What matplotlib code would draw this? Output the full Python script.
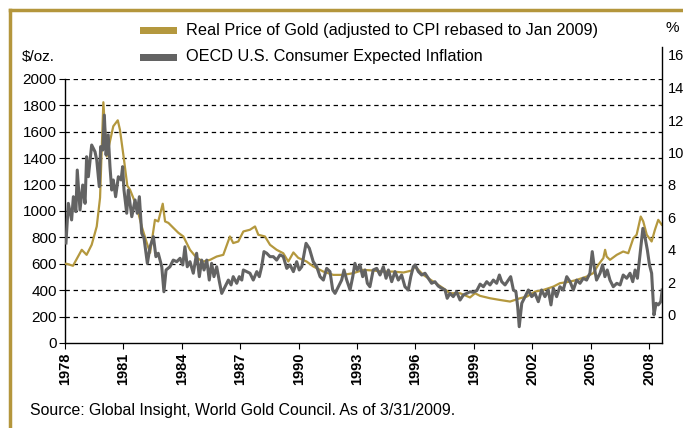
import matplotlib
matplotlib.use("Agg")
import matplotlib.pyplot as plt
from matplotlib.lines import Line2D
from matplotlib.patches import Rectangle

# ---------------- data ----------------
gold_years = [1978.00, 1978.09, 1978.41, 1978.86, 1979.11, 1979.37, 1979.63, 1979.80, 1979.97,
              1980.14, 1980.48, 1980.71, 1980.82, 1981.03, 1981.20, 1981.34, 1981.68, 1981.94,
              1982.20, 1982.37, 1982.62, 1982.79, 1983.02, 1983.14, 1983.31, 1983.56, 1983.82,
              1984.08, 1984.42, 1984.76, 1985.10, 1985.45, 1985.79, 1986.13, 1986.47, 1986.64,
              1986.90, 1987.16, 1987.50, 1987.76, 1987.93, 1988.27, 1988.53, 1988.87, 1989.21,
              1989.47, 1989.73, 1989.98, 1990.41, 1990.75, 1991.27, 1991.78, 1992.29, 1992.81,
              1993.32, 1993.83, 1994.35, 1994.86, 1995.38, 1995.81, 1995.98, 1996.40, 1996.92,
              1997.43, 1997.77, 1998.29, 1998.80, 1999.06, 1999.32, 1999.83, 2000.34, 2000.86,
              2001.37, 2001.71, 2002.14, 2002.57, 2003.08, 2003.42, 2003.94, 2004.28, 2004.79,
              2005.13, 2005.39, 2005.65, 2005.74, 2005.82, 2005.99, 2006.34, 2006.67, 2006.93,
              2007.19, 2007.36, 2007.57, 2007.70, 2007.88, 2008.13, 2008.30, 2008.47, 2008.65]
gold_price = [600, 600, 585, 706, 668, 744, 883, 1100, 1824,
              1414, 1642, 1687, 1617, 1389, 1192, 1161, 1035, 883,
              759, 683, 933, 921, 1055, 921, 910, 873, 835,
              807, 706, 645, 617, 630, 655, 668, 807, 757,
              769, 845, 858, 883, 820, 807, 744, 706, 680,
              617, 686, 645, 617, 580, 541, 516, 516, 529,
              554, 549, 541, 541, 534, 549, 580, 516, 465,
              415, 377, 377, 345, 377, 357, 339, 326, 314,
              339, 351, 389, 402, 427, 453, 465, 478, 503,
              529, 592, 643, 706, 655, 630, 668, 693, 680,
              794, 820, 958, 921, 820, 769, 858, 933, 896]

infl_years = [1978.05, 1978.17, 1978.34, 1978.43, 1978.56, 1978.63, 1978.77, 1978.91, 1979.03,
              1979.11, 1979.20, 1979.37, 1979.54, 1979.63, 1979.76, 1979.83, 1979.94, 1980.02,
              1980.11, 1980.22, 1980.31, 1980.40, 1980.48, 1980.60, 1980.74, 1980.88, 1980.96,
              1981.03, 1981.17, 1981.25, 1981.34, 1981.43, 1981.60, 1981.71, 1981.82, 1981.94,
              1982.06, 1982.23, 1982.37, 1982.54, 1982.67, 1982.79, 1982.97, 1983.08, 1983.19,
              1983.39, 1983.56, 1983.74, 1983.91, 1984.05, 1984.16, 1984.28, 1984.42, 1984.59,
              1984.76, 1984.90, 1985.02, 1985.14, 1985.28, 1985.41, 1985.53, 1985.65, 1985.79,
              1985.93, 1986.05, 1986.22, 1986.39, 1986.53, 1986.64, 1986.82, 1986.95, 1987.08,
              1987.16, 1987.33, 1987.50, 1987.67, 1987.85, 1987.98, 1988.10, 1988.22, 1988.36,
              1988.53, 1988.70, 1988.87, 1989.04, 1989.21, 1989.39, 1989.56, 1989.73, 1989.90,
              1990.03, 1990.16, 1990.38, 1990.55, 1990.75, 1990.93, 1991.10, 1991.27, 1991.44,
              1991.61, 1991.75, 1991.87, 1992.04, 1992.21, 1992.33, 1992.47, 1992.64, 1992.78,
              1992.89, 1993.01, 1993.15, 1993.29, 1993.41, 1993.53, 1993.66, 1993.83, 1994.01,
              1994.18, 1994.35, 1994.49, 1994.61, 1994.78, 1994.95, 1995.12, 1995.29, 1995.46,
              1995.63, 1995.76, 1995.89, 1995.98, 1996.15, 1996.32, 1996.49, 1996.66, 1996.83,
              1997.00, 1997.17, 1997.35, 1997.52, 1997.63, 1997.77, 1997.94, 1998.11, 1998.29,
              1998.46, 1998.63, 1998.80, 1998.97, 1999.15, 1999.32, 1999.49, 1999.66, 1999.83,
              2000.00, 2000.17, 2000.31, 2000.43, 2000.60, 2000.77, 2000.89, 2001.03, 2001.16,
              2001.25, 2001.33, 2001.46, 2001.63, 2001.80, 2001.97, 2002.14, 2002.31, 2002.48,
              2002.65, 2002.82, 2002.96, 2003.08, 2003.25, 2003.42, 2003.59, 2003.77, 2003.94,
              2004.11, 2004.28, 2004.45, 2004.62, 2004.79, 2004.96, 2005.08, 2005.18, 2005.30,
              2005.48, 2005.61, 2005.73, 2005.85, 2005.99, 2006.16, 2006.34, 2006.51, 2006.67,
              2006.85, 2007.02, 2007.16, 2007.28, 2007.40, 2007.54, 2007.68, 2007.80, 2007.91,
              2008.02, 2008.13, 2008.25, 2008.36, 2008.47, 2008.60, 2008.67]
infl_rate = [4.43, 6.87, 5.85, 7.28, 6.36, 8.92, 6.46, 8.00, 6.87,
             9.74, 8.51, 10.46, 10.05, 9.54, 7.90, 10.36, 10.15, 12.30,
             9.85, 11.08, 9.13, 7.69, 8.31, 7.28, 8.51, 8.31, 9.13,
             7.69, 6.26, 7.69, 6.87, 6.05, 7.08, 6.26, 7.28, 5.03,
             4.72, 3.18, 4.20, 4.82, 3.59, 3.80, 2.97, 1.43, 2.77,
             2.97, 3.38, 3.28, 3.49, 3.08, 4.20, 2.97, 3.28, 2.57,
             3.80, 2.36, 3.38, 2.77, 3.38, 2.15, 3.18, 2.36, 2.97,
             2.05, 1.33, 1.74, 2.15, 1.85, 2.36, 1.95, 2.36, 2.15,
             2.77, 2.67, 2.57, 2.15, 2.67, 2.36, 2.97, 3.90, 3.80,
             3.59, 3.59, 3.38, 3.70, 3.60, 2.87, 3.08, 2.67, 3.28,
             2.77, 2.97, 4.41, 4.10, 3.28, 2.97, 2.36, 2.15, 2.87,
             2.67, 1.54, 1.33, 1.74, 2.15, 2.77, 2.15, 1.54, 2.36,
             3.18, 2.77, 3.08, 2.36, 2.77, 1.95, 1.74, 2.77, 2.87,
             2.46, 2.97, 2.26, 2.77, 2.05, 2.67, 2.15, 2.46, 1.74,
             1.54, 2.36, 2.97, 3.08, 2.67, 2.46, 2.57, 2.26, 1.95,
             2.05, 1.78, 1.64, 1.54, 1.03, 1.33, 1.13, 1.43, 0.92,
             1.23, 1.33, 1.43, 1.40, 1.50, 1.90, 1.74, 2.05, 1.85,
             2.15, 1.95, 2.46, 2.05, 1.85, 2.15, 2.36, 1.54, 1.43,
             0.51, -0.72, 0.72, 1.13, 1.54, 1.13, 1.33, 0.82, 1.54,
             1.13, 1.54, 0.62, 1.64, 1.13, 1.74, 1.54, 2.36, 2.05,
             1.54, 2.15, 1.95, 2.26, 2.15, 2.57, 3.90, 2.97, 2.15,
             2.57, 3.08, 2.36, 2.77, 2.15, 1.74, 1.95, 1.85, 2.46,
             2.26, 2.57, 2.05, 2.77, 2.26, 3.80, 5.33, 4.72, 4.00,
             3.08, 2.57, 0.00, 0.72, 0.62, 0.82, 1.54]

year_ticks = [1978, 1981, 1984, 1987, 1990, 1993, 1996, 1999, 2002, 2005, 2008]
left_ticks = list(range(0, 2001, 200))
right_ticks = list(range(0, 17, 2))

legend_labels = ["Real Price of Gold (adjusted to CPI rebased to Jan 2009)",
                 "OECD U.S. Consumer Expected Inflation"]
source_text = "Source: Global Insight, World Gold Council. As of 3/31/2009."

# ---------------- style ----------------
GOLD = "#B4983E"
GRAY = "#636363"
FRAME = "#B4963C"
W, H = 683, 428
plt.rcParams["font.family"] = ["Liberation Sans", "DejaVu Sans"]

fig = plt.figure(figsize=(W / 100, H / 100), dpi=100)

def fx(px):
    return px / W

def fy(py):
    return 1 - py / H

x0, x1 = 65, 662
ax = fig.add_axes([fx(x0), fy(343), fx(x1 - x0), (343 - 79) / H])
ax2 = fig.add_axes([fx(x0), fy(343), fx(x1 - x0), (343 - 47) / H])
ax2.patch.set_visible(False)

xlim = (1978, 1978 + (x1 - x0) / 19.47)

# left axis - gold
ax.plot(gold_years, gold_price, color=GOLD, lw=1.6, solid_joinstyle="round", zorder=3)
ax.set_xlim(*xlim)
ax.set_ylim(0, 2000)
ax.set_yticks(left_ticks)
ax.set_xticks(year_ticks)
ax.set_xticklabels([str(y) for y in year_ticks], rotation=90, fontsize=10.5, fontweight="bold")
ax.tick_params(axis="y", labelsize=11, length=4, width=0.8, pad=2, direction="out")
ax.tick_params(axis="x", length=4, width=0.8, pad=3, direction="out")
for s in ["top", "right"]:
    ax.spines[s].set_visible(False)
for s in ["left", "bottom"]:
    ax.spines[s].set_linewidth(1.0)
for v in left_ticks[1:]:
    ax.axhline(v, color="black", lw=0.9, ls=(0, (3.5, 3)), zorder=1)

# right axis - inflation
ax2.plot(infl_years, infl_rate, color=GRAY, lw=2.2, solid_joinstyle="round", zorder=4)
ax2.set_xlim(*xlim)
ax2.set_ylim(-(343 - 315) / 16.25, (315 - 47) / 16.25)
ax2.yaxis.tick_right()
ax2.set_yticks(right_ticks)
ax2.tick_params(axis="y", labelsize=10.5, length=0, pad=4)
ax2.set_xticks([])
for s in ["top", "left", "bottom"]:
    ax2.spines[s].set_visible(False)
ax2.spines["right"].set_linewidth(1.0)

# unit labels
fig.text(fx(22), fy(57), "$/oz.", fontsize=11, va="center", ha="left")
fig.text(fx(665), fy(28), "%", fontsize=11, va="center", ha="left")

# legend
for i, (lab, col) in enumerate(zip(legend_labels, [GOLD, GRAY])):
    yc = 30 + i * 27
    fig.patches.append(Rectangle((fx(140), fy(yc + 3.5)), fx(37), 7 / H,
                                 transform=fig.transFigure, facecolor=col,
                                 edgecolor="none"))
    fig.text(fx(186), fy(yc), lab, fontsize=11.7, va="center", ha="left")

# source
fig.text(fx(30), fy(411), source_text, fontsize=11.4, va="center", ha="left")

# gold frame (top and left)
fig.lines.append(Line2D([fx(10), 1.0], [fy(10), fy(10)], transform=fig.transFigure,
                        color=FRAME, lw=2.5))
fig.lines.append(Line2D([fx(10), fx(10)], [fy(10), 0.0], transform=fig.transFigure,
                        color=FRAME, lw=2.5))

fig.savefig("out.png", dpi=100)
